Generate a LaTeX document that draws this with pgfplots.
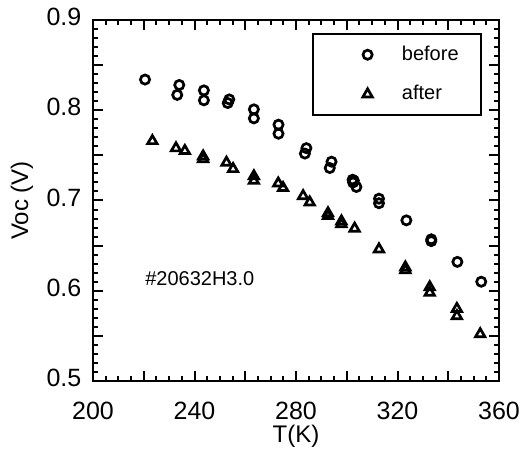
\documentclass[border=0pt]{standalone}
\usepackage{fontspec}
\setmainfont{Liberation Sans}
\usepackage{pgfplots}
\pgfplotsset{compat=1.18}
\begin{document}
\begin{tikzpicture}
\begin{axis}[
  name=ax,
  at={(0,0)}, anchor=south west,
  scale only axis,
  width=203pt, height=180.5pt,
  xmin=200, xmax=360, ymin=0.5, ymax=0.9,
  xtick={200,220,...,360},
  xticklabels={200,,240,,280,,320,,360},
  minor x tick num=3,
  ytick={0.5,0.55,...,0.9},
  yticklabels={0.5,,0.6,,0.7,,0.8,,0.9},
  minor y tick num=4,
  tick align=inside,
  major tick length=5pt,
  minor tick length=2.5pt,
  axis line style={line width=1.3pt},
  every tick/.style={black, line width=1pt},
  /pgf/number format/assume math mode=true,
  tick label style={font=\fontsize{12.5}{14}\selectfont},
  xticklabel style={yshift=-7pt},
  yticklabel style={xshift=-2.3pt, yshift=1.5pt},
  xlabel={T(K)},
  ylabel={Voc (V)},
  label style={font=\fontsize{12}{14}\selectfont},
  xlabel style={at={(axis description cs:0.5,-0.152)}, anchor=center},
  ylabel style={at={(axis description cs:-0.175,0.5)}, anchor=center},
  legend style={at={(0.958,0.964)}, anchor=north east, draw=black, line width=1pt,
    font=\fontsize{10}{12}\selectfont, inner xsep=0pt, inner ysep=6pt, row sep=11pt,
    nodes={inner sep=0pt, text width=39.5pt, align=left}},
  legend cell align=left,
  legend image code/.code={\path (-26.5pt,0pt) (16.5pt,0pt); \draw[#1] plot coordinates {(0pt,0pt)};},
]
\addplot[only marks, mark=o, mark size=2.3pt, line width=1.35pt, black] coordinates {
(220.5,0.834) (234,0.828) (233.2,0.817) (243.7,0.822) (243.7,0.811)
(253.7,0.812) (253.1,0.808) (263.4,0.801) (263.4,0.791) (273.1,0.784)
(273.1,0.774) (284.1,0.758) (283.5,0.752) (294,0.743) (293.3,0.736)
(302.3,0.723) (302.8,0.722) (302.5,0.720) (303.8,0.715) (312.7,0.702)
(312.7,0.697) (323.5,0.678) (333.3,0.657) (333.3,0.655) (343.6,0.632)
(353,0.610)
};
\addlegendentry{before}
\addplot[only marks, mark=triangle, mark size=2.7pt, line width=1.35pt, black] coordinates {
(223.4,0.766) (232.7,0.758) (236.2,0.755) (243.4,0.749) (243.4,0.746)
(252.6,0.742) (255.2,0.735) (263.4,0.727) (263.4,0.722) (273,0.719)
(274.9,0.714) (282.8,0.705) (285.4,0.698) (292.6,0.686) (292.6,0.683)
(297.9,0.677) (297.9,0.674) (303.1,0.669) (312.7,0.646) (323.1,0.626)
(323.1,0.623) (332.7,0.604) (332.7,0.598) (343.4,0.580) (343.4,0.572)
(352.6,0.552)
};
\addlegendentry{after}
\node[font=\fontsize{10}{12}\selectfont] at (axis cs:242.1,0.614) {\#20632H3.0};
\end{axis}
\pgfresetboundingbox
\path[use as bounding box] ([shift={(-46.5pt,-36.5pt)}]ax.south west) rectangle ([shift={(11.5pt,10pt)}]ax.north east);
\end{tikzpicture}
\end{document}
